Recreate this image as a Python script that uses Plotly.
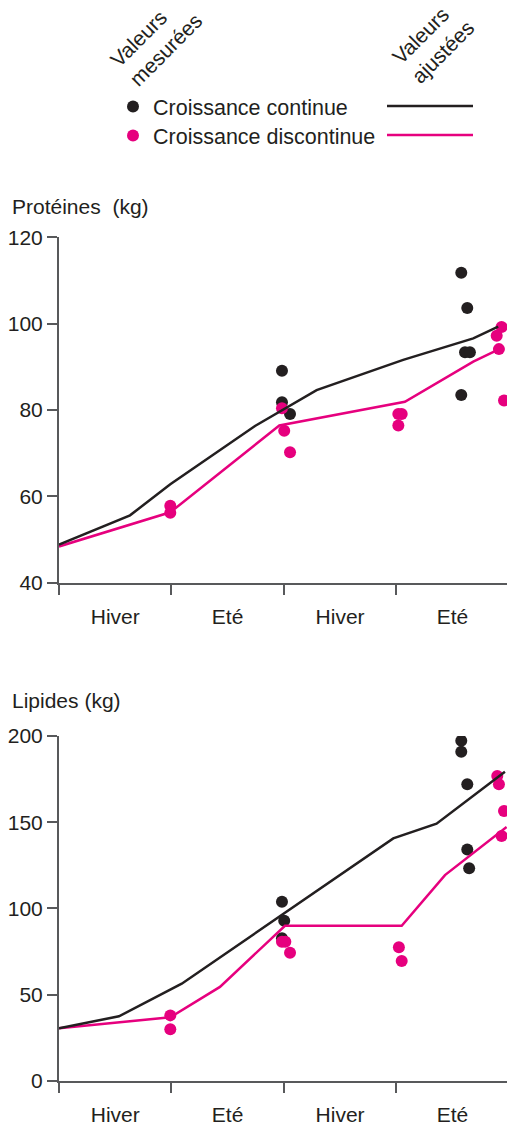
import plotly.graph_objects as go

# ---------------- data (x in months from start; 6 months per season) ----------------
season_labels = ["Hiver", "Eté", "Hiver", "Eté"]
season_label_pos = [3, 9, 15, 21]
season_bounds = [0, 6, 12, 18]

# Protéines (kg)
prot_fit_cont_x = [0, 3.79, 5.94, 10.46, 13.75, 18.37, 22.11, 23.44]
prot_fit_cont_y = [48.8, 55.6, 62.8, 76.3, 84.6, 91.6, 96.6, 99.3]
prot_fit_disc_x = [0, 5.94, 11.76, 18.46, 22.11, 23.44]
prot_fit_disc_y = [48.4, 56.3, 76.4, 81.9, 91.2, 94.0]
prot_cont_x = [11.90, 11.90, 12.33, 21.47, 21.79, 21.67, 21.93, 21.47]
prot_cont_y = [89.1, 81.8, 79.1, 111.8, 103.6, 93.4, 93.4, 83.5]
prot_disc_x = [5.94, 5.94, 11.90, 12.02, 12.33, 18.11, 18.29, 18.11, 23.62, 23.36, 23.48, 23.75]
prot_disc_y = [57.8, 56.2, 80.4, 75.2, 70.2, 79.1, 79.1, 76.4, 99.2, 97.2, 94.1, 82.2]

# Lipides (kg)
lip_fit_cont_x = [0, 3.20, 6.55, 17.84, 20.15, 23.80]
lip_fit_cont_y = [30.4, 37.4, 56.3, 140.6, 149.1, 179.3]
lip_fit_disc_x = [0, 5.94, 8.59, 12.06, 18.29, 20.60, 23.89]
lip_fit_disc_y = [30.4, 36.8, 54.4, 89.9, 89.9, 119.3, 147.2]
lip_cont_x = [11.90, 12.02, 11.90, 21.47, 21.47, 21.79, 21.79, 21.89]
lip_cont_y = [103.8, 92.8, 82.6, 197.2, 190.9, 172.0, 134.2, 123.2]
lip_disc_x = [5.94, 5.94, 11.90, 12.08, 12.33, 18.14, 18.29, 23.39, 23.48, 23.75, 23.62]
lip_disc_y = [37.9, 29.8, 80.6, 80.6, 74.3, 77.4, 69.4, 176.8, 172.0, 156.5, 142.0]

prot_ticks = [40, 60, 80, 100, 120]
lip_ticks = [0, 50, 100, 150, 200]

# ---------------- styling ----------------
BLACK = "#231f20"
MAGENTA = "#e6007e"
AXIS = "#58595b"
FONT = "Liberation Sans, Arial, sans-serif"
FS = 21
MS = 12
W, H = 507, 1125
L = 59


def py(p):
    return 1 - p / H


def px(p):
    return (p - L) / (W - L)


fig = go.Figure()

panels = [
    ("x", "y", prot_cont_x, prot_cont_y, prot_disc_x, prot_disc_y,
     prot_fit_cont_x, prot_fit_cont_y, prot_fit_disc_x, prot_fit_disc_y, True),
    ("x2", "y2", lip_cont_x, lip_cont_y, lip_disc_x, lip_disc_y,
     lip_fit_cont_x, lip_fit_cont_y, lip_fit_disc_x, lip_fit_disc_y, False),
]
for xa, ya, cx, cy, dx, dy, fcx, fcy, fdx, fdy, leg in panels:
    fig.add_trace(go.Scatter(x=cx, y=cy, mode="markers", xaxis=xa, yaxis=ya,
                             marker=dict(color=BLACK, size=MS),
                             name="Croissance continue", showlegend=leg,
                             legend="legend"))
    fig.add_trace(go.Scatter(x=dx, y=dy, mode="markers", xaxis=xa, yaxis=ya,
                             marker=dict(color=MAGENTA, size=MS),
                             name="Croissance discontinue", showlegend=leg,
                             legend="legend2"))
    fig.add_trace(go.Scatter(x=fdx, y=fdy, mode="lines", xaxis=xa, yaxis=ya,
                             line=dict(color=MAGENTA, width=2.5),
                             showlegend=False))
    fig.add_trace(go.Scatter(x=fcx, y=fcy, mode="lines", xaxis=xa, yaxis=ya,
                             line=dict(color=BLACK, width=2.5),
                             showlegend=False))

xcommon = dict(
    range=[0, 23.91], showgrid=False, zeroline=False,
    showline=True, linecolor=AXIS, linewidth=2,
    tickvals=season_label_pos, ticktext=season_labels, ticks="",
    ticklabelstandoff=14,
    tickfont=dict(family=FONT, size=FS, color=BLACK),
    minor=dict(tickvals=season_bounds, ticks="outside", ticklen=10,
               tickwidth=2, tickcolor=AXIS, showgrid=False),
    fixedrange=True, automargin=False,
)
ycommon = dict(
    showgrid=False, zeroline=False, showline=True, linecolor=AXIS, linewidth=2,
    ticks="outside", ticklen=10, tickwidth=2, tickcolor=AXIS,
    tickfont=dict(family=FONT, size=FS, color=BLACK),
    fixedrange=True, automargin=False,
)

legcommon = dict(xanchor="left", yanchor="top",
                 font=dict(family=FONT, size=21.5, color=BLACK),
                 bgcolor="rgba(0,0,0,0)",
                 itemclick=False, itemdoubleclick=False)

fig.update_layout(
    width=W, height=H,
    margin=dict(l=L, r=0, t=0, b=0, autoexpand=False),
    paper_bgcolor="white", plot_bgcolor="white",
    font=dict(family=FONT, size=FS, color=BLACK),
    xaxis=dict(xcommon, anchor="y", domain=[0, 1]),
    yaxis=dict(ycommon, range=[40, 120], tickvals=prot_ticks,
               domain=[py(582.7), py(237.3)], anchor="x"),
    xaxis2=dict(xcommon, anchor="y2", domain=[0, 1]),
    yaxis2=dict(ycommon, range=[0, 200], tickvals=lip_ticks,
                domain=[py(1080.7), py(736)], anchor="x2"),
    legend=dict(legcommon, x=px(113), y=py(86)),
    legend2=dict(legcommon, x=px(113), y=py(115)),
    showlegend=True,
)

# legend keys for the fitted lines
for yy, col in [(106, BLACK), (135, MAGENTA)]:
    fig.add_shape(type="line", xref="paper", yref="paper",
                  x0=px(387), x1=px(473), y0=py(yy), y1=py(yy),
                  line=dict(color=col, width=2.5))

# rotated header labels
for txt, cx, cy in [("Valeurs<br>mesurées", 156, 40), ("Valeurs<br>ajustées", 433, 42)]:
    fig.add_annotation(text=txt, xref="paper", yref="paper",
                       x=px(cx), y=py(cy), xanchor="center", yanchor="middle",
                       textangle=-45, align="left", showarrow=False,
                       font=dict(family=FONT, size=FS, color=BLACK))

# panel titles
for txt, cy in [("Protéines  (kg)", 207), ("Lipides (kg)", 700)]:
    fig.add_annotation(text=txt, xref="paper", yref="paper",
                       x=px(10), y=py(cy), xanchor="left", yanchor="middle",
                       showarrow=False, font=dict(family=FONT, size=FS, color=BLACK))

fig.write_html("out.html", config={"displayModeBar": False},
               post_script="document.body.style.margin='0';document.body.style.padding='0';")
